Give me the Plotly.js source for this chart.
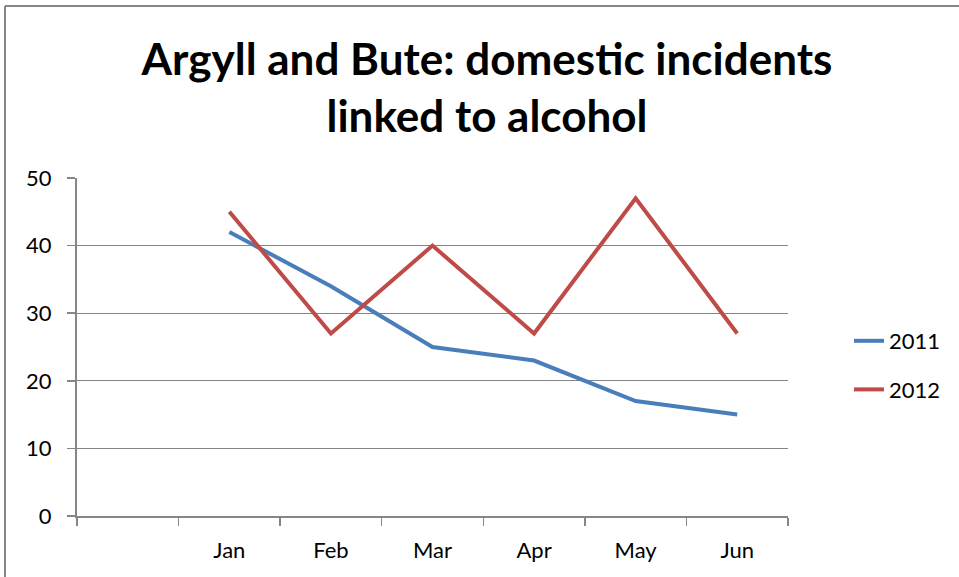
<!DOCTYPE html>
<html>
<head>
<meta charset="utf-8">
<script src="https://cdn.plot.ly/plotly-3.0.1.min.js"></script>
<style>html,body{margin:0;padding:0;background:#fff;}#chart{width:959px;height:577px;}</style>
</head>
<body>
<div id="chart"></div>
<script>
const categories = [" ", "Jan", "Feb", "Mar", "Apr", "May", "Jun"];
const months = ["Jan", "Feb", "Mar", "Apr", "May", "Jun"];
const series2011 = [42, 34, 25, 23, 17, 15];
const series2012 = [45, 27, 40, 27, 47, 27];
const yTicks = [0, 10, 20, 30, 40, 50];

const FONT = "Lato, 'Open Sans', sans-serif";
const GREY = "#868686";

const traces = [
  {x: months, y: series2011, name: "2011", type: "scatter", mode: "lines",
   line: {color: "#4A7EBB", width: 4}, legendgroup: "a"},
  {x: months, y: series2012, name: "2012", type: "scatter", mode: "lines",
   line: {color: "#BE4B48", width: 4}, legendgroup: "b"}
];

const layout = {
  width: 959, height: 577,
  margin: {l: 77, r: 171, t: 178, b: 61},
  paper_bgcolor: "#fff", plot_bgcolor: "#fff",
  font: {family: FONT, color: "#000"},
  title: {
    text: "<b>Argyll and Bute: domestic incidents<br>linked to alcohol</b>",
    font: {family: FONT, size: 44, color: "#000"},
    xref: "container", x: 487/959, xanchor: "center",
    yref: "container", y: 1 - 75/577, yanchor: "middle"
  },
  xaxis: {
    type: "category", categoryorder: "array", categoryarray: categories,
    range: [-0.5, 6.5], fixedrange: true,
    showgrid: false, showline: true, linecolor: GREY, linewidth: 2,
    ticks: "outside", tickson: "boundaries", ticklen: 8, tickcolor: GREY, tickwidth: 1.5,
    tickfont: {family: FONT, size: 22, color: "#000"}, ticklabelstandoff: 14,
    zeroline: false
  },
  yaxis: {
    range: [0, 50], tickvals: yTicks, fixedrange: true,
    showgrid: true, gridcolor: GREY, gridwidth: 1,
    showline: true, linecolor: GREY, linewidth: 2,
    ticks: "outside", ticklen: 8, tickcolor: GREY, tickwidth: 1.5,
    tickfont: {family: FONT, size: 22, color: "#000"}, ticklabelstandoff: 11,
    zeroline: false
  },
  showlegend: true,
  legend: {
    x: (849 - 77) / 711, xanchor: "left",
    y: (516 - 365.5) / 338, yanchor: "middle",
    font: {family: FONT, size: 22, color: "#000"},
    traceorder: "grouped", tracegroupgap: 17,
    bgcolor: "rgba(0,0,0,0)", borderwidth: 0
  },
  shapes: [
    {type: "line", xref: "paper", yref: "paper", x0: (5 - 77) / 711, x1: (5 - 77) / 711, y0: -1, y1: (516 - 6) / 338,
     line: {color: GREY, width: 2}},
    {type: "line", xref: "paper", yref: "paper", x0: (5 - 77) / 711, x1: 2, y0: (516 - 6) / 338, y1: (516 - 6) / 338,
     line: {color: GREY, width: 2}}
  ]
};

Plotly.newPlot("chart", traces, layout, {displayModeBar: false, staticPlot: true});
</script>
</body>
</html>
